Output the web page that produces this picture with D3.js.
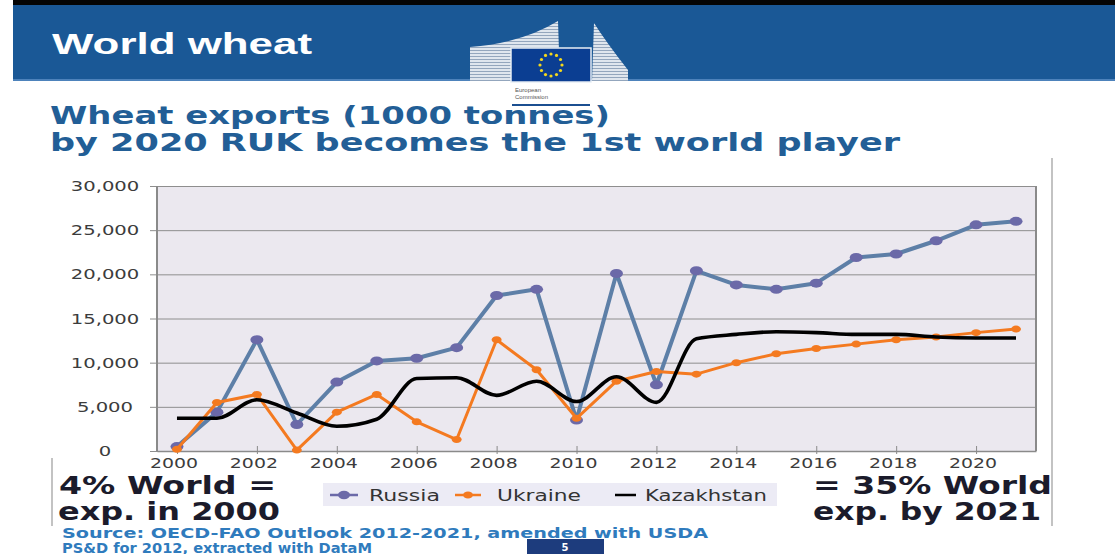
<!DOCTYPE html>
<html>
<head>
<meta charset="utf-8">
<script src="https://cdn.jsdelivr.net/npm/d3@7"></script>
<style>
  html, body { margin: 0; padding: 0; background: #fff; }
  svg { display: block; }
</style>
</head>
<body>
<svg id="chart" width="1115" height="554"></svg>
<script>
// Wheat exports, 1000 tonnes
const years = [2000, 2001, 2002, 2003, 2004, 2005, 2006, 2007, 2008, 2009, 2010,
               2011, 2012, 2013, 2014, 2015, 2016, 2017, 2018, 2019, 2020, 2021];
const russia = [500, 4400, 12600, 3000, 7800, 10200, 10500, 11700, 17600, 18300, 3500,
                20100, 7500, 20400, 18800, 18300, 19000, 21900, 22300, 23800, 25600, 26000];
const ukraine = [200, 5500, 6400, 100, 4400, 6400, 3300, 1300, 12600, 9200, 3700,
                 7900, 9000, 8700, 10000, 11000, 11600, 12100, 12600, 12900, 13400, 13800];
const kazakhstan = [3700, 3700, 5800, 4300, 2800, 3600, 8200, 8300, 6300, 7900, 5600,
                    8400, 5500, 12700, 13200, 13500, 13400, 13200, 13200, 12900, 12800, 12800];
const yTicks = [0, 5000, 10000, 15000, 20000, 25000, 30000];
const xTickYears = [2000, 2002, 2004, 2006, 2008, 2010, 2012, 2014, 2016, 2018, 2020];
const seriesNames = ["Russia", "Ukraine", "Kazakhstan"];

const svg = d3.select("#chart");
const defs = svg.append("defs");

// striped facade for the Berlaymont building silhouette
const pat = defs.append("pattern").attr("id", "facade")
  .attr("patternUnits", "userSpaceOnUse").attr("width", 4).attr("height", 3);
pat.append("rect").attr("width", 4).attr("height", 3).attr("fill", "#dfe6ee");
pat.append("rect").attr("y", 2).attr("width", 4).attr("height", 1).attr("fill", "#93a6bd");

// ---- header band ----
svg.append("rect").attr("x", 13).attr("y", 0).attr("width", 1102).attr("height", 5).attr("fill", "#050505");
svg.append("rect").attr("x", 13).attr("y", 5).attr("width", 1102).attr("height", 76).attr("fill", "#1a5896");
svg.append("rect").attr("x", 13).attr("y", 79).attr("width", 1102).attr("height", 2).attr("fill", "#4d82bb");

svg.append("text").attr("x", 52).attr("y", 54)
  .attr("font-family", "Liberation Sans, Arial, sans-serif").attr("font-weight", "bold")
  .attr("font-size", 30).attr("fill", "#ffffff")
  .attr("textLength", 260).attr("lengthAdjust", "spacingAndGlyphs")
  .text("World wheat");

// ---- European Commission logo ----
const logo = svg.append("g");
logo.append("path").attr("d", "M470,81 L470,47 Q522,43 558,21 L560,81 Z").attr("fill", "url(#facade)");
logo.append("path").attr("d", "M592,81 L594,23 Q606,42 628,70 L628,81 Z").attr("fill", "url(#facade)");
logo.append("rect").attr("x", 511).attr("y", 48).attr("width", 80).attr("height", 34)
  .attr("fill", "#0b3e92").attr("stroke", "#e8eef5").attr("stroke-width", 1.5);
d3.range(12).forEach(i => {
  const a = i / 12 * 2 * Math.PI;
  logo.append("circle").attr("cx", 551 + 11 * Math.cos(a)).attr("cy", 65 + 11 * Math.sin(a))
    .attr("r", 1.6).attr("fill", "#f4d81c");
});
logo.append("text").attr("x", 515).attr("y", 92).attr("font-family", "Liberation Sans, Arial, sans-serif")
  .attr("font-size", 6).attr("fill", "#555").text("European");
logo.append("text").attr("x", 515).attr("y", 99).attr("font-family", "Liberation Sans, Arial, sans-serif")
  .attr("font-size", 6).attr("fill", "#555").text("Commission");
logo.append("rect").attr("x", 512).attr("y", 104).attr("width", 78).attr("height", 2).attr("fill", "#1b4f91");

// ---- titles ----
const titleFont = "DejaVu Sans, Verdana, sans-serif";
svg.append("text").attr("x", 50).attr("y", 124)
  .attr("font-family", titleFont).attr("font-weight", "bold").attr("font-size", 24)
  .attr("fill", "#225e96").attr("textLength", 560).attr("lengthAdjust", "spacingAndGlyphs")
  .text("Wheat exports (1000 tonnes)");
svg.append("text").attr("x", 50).attr("y", 151)
  .attr("font-family", titleFont).attr("font-weight", "bold").attr("font-size", 24)
  .attr("fill", "#225e96").attr("textLength", 850).attr("lengthAdjust", "spacingAndGlyphs")
  .text("by 2020 RUK becomes the 1st world player");

// ---- chart frame ----
svg.append("line").attr("x1", 1052).attr("x2", 1052).attr("y1", 158).attr("y2", 526)
  .attr("stroke", "#c3c3c3").attr("stroke-width", 2);
svg.append("line").attr("x1", 52).attr("x2", 52).attr("y1", 458).attr("y2", 526)
  .attr("stroke", "#c3c3c3").attr("stroke-width", 2);

// ---- plot ----
const plotL = 157, plotR = 1036, plotT = 186, plotB = 451;
const x = d3.scalePoint().domain(years).range([plotL, plotR]).padding(0.5);
const y = d3.scaleLinear().domain([0, 30000]).range([plotB, plotT]);

svg.append("rect").attr("x", plotL).attr("y", plotT).attr("width", plotR - plotL).attr("height", plotB - plotT)
  .attr("fill", "#ebe8ef");

const axisFont = "DejaVu Sans, Verdana, sans-serif";
// horizontal gridlines (extend a little left of the plot as tick marks)
const yAxis = svg.append("g").attr("transform", `translate(${plotR},0)`)
  .call(d3.axisLeft(y).tickValues(yTicks).tickSize(plotR - 150).tickFormat(""));
yAxis.select(".domain").remove();
yAxis.selectAll(".tick line").attr("stroke", "#8e8e8e").attr("stroke-width", 1);

// value labels, horizontally stretched like the rest of the slide
const fmt = d3.format(",");
svg.append("g").selectAll("text").data(yTicks).join("text")
  .attr("transform", d => `translate(105,${y(d) + 5}) scale(1.4,1)`)
  .attr("text-anchor", "middle")
  .attr("font-family", axisFont).attr("font-size", 14).attr("fill", "#3c3c3c")
  .text(d => fmt(d));

svg.append("line").attr("x1", plotL).attr("x2", plotL).attr("y1", plotT).attr("y2", plotB)
  .attr("stroke", "#8a8a8a").attr("stroke-width", 2);
svg.append("line").attr("x1", plotR).attr("x2", plotR).attr("y1", plotT).attr("y2", plotB)
  .attr("stroke", "#8a8a8a").attr("stroke-width", 2);

const xAxis = svg.append("g").attr("transform", `translate(0,${plotB})`)
  .call(d3.axisBottom(x).tickValues(xTickYears).tickSizeInner(4).tickSizeOuter(0).tickFormat(""));
xAxis.select(".domain").attr("stroke", "#8a8a8a").attr("stroke-width", 1.5);
xAxis.selectAll(".tick line").attr("y1", -5).attr("y2", 3).attr("stroke", "#8a8a8a");

svg.append("g").selectAll("text").data(xTickYears).join("text")
  .attr("transform", d => `translate(${x(d) - 3},468) scale(1.35,1)`)
  .attr("text-anchor", "middle")
  .attr("font-family", axisFont).attr("font-size", 14).attr("fill", "#3c3c3c")
  .text(d => d);

const pts = vals => years.map((yr, i) => ({ year: yr, v: vals[i] }));
const line = d3.line().x(d => x(d.year)).y(d => y(d.v));
const smooth = d3.line().x(d => x(d.year)).y(d => y(d.v)).curve(d3.curveMonotoneX);

const russiaCol = "#5d7fa7", russiaMark = "#6b69a8", ukraineCol = "#f47a20";

// Russia
svg.append("path").datum(pts(russia)).attr("d", line)
  .attr("fill", "none").attr("stroke", russiaCol).attr("stroke-width", 4).attr("stroke-linejoin", "round");
svg.append("g").selectAll("ellipse").data(pts(russia)).join("ellipse")
  .attr("cx", d => x(d.year)).attr("cy", d => y(d.v)).attr("rx", 6.5).attr("ry", 4.5).attr("fill", russiaMark);

// Ukraine
svg.append("path").datum(pts(ukraine)).attr("d", line)
  .attr("fill", "none").attr("stroke", ukraineCol).attr("stroke-width", 3).attr("stroke-linejoin", "round");
svg.append("g").selectAll("ellipse").data(pts(ukraine)).join("ellipse")
  .attr("cx", d => x(d.year)).attr("cy", d => y(d.v)).attr("rx", 5).attr("ry", 3.5).attr("fill", ukraineCol);

// Kazakhstan
svg.append("path").datum(pts(kazakhstan)).attr("d", smooth)
  .attr("fill", "none").attr("stroke", "#000").attr("stroke-width", 3.6).attr("stroke-linejoin", "round");

// ---- legend ----
const lg = svg.append("g");
lg.append("rect").attr("x", 323).attr("y", 483).attr("width", 454).attr("height", 23).attr("fill", "#ecebf5");
const legendItems = [
  { name: seriesNames[0], x0: 330, x1: 358, col: russiaMark, mark: 6, tx: 369, tw: 71 },
  { name: seriesNames[1], x0: 455, x1: 481, col: ukraineCol, mark: 5, tx: 497, tw: 84 },
  { name: seriesNames[2], x0: 615, x1: 636, col: "#000", mark: 0, tx: 645, tw: 122 }
];
legendItems.forEach(it => {
  lg.append("line").attr("x1", it.x0).attr("x2", it.x1).attr("y1", 495).attr("y2", 495)
    .attr("stroke", it.col).attr("stroke-width", 2.5);
  if (it.mark) lg.append("ellipse").attr("cx", (it.x0 + it.x1) / 2).attr("cy", 495)
    .attr("rx", it.mark).attr("ry", it.mark * 0.7).attr("fill", it.col);
  lg.append("text").attr("x", it.tx).attr("y", 501)
    .attr("font-family", axisFont).attr("font-size", 15).attr("fill", "#333")
    .attr("textLength", it.tw).attr("lengthAdjust", "spacingAndGlyphs").text(it.name);
});

// ---- side notes ----
const noteFont = "DejaVu Sans, Verdana, sans-serif";
const note = (tx, ty, tw, s) => svg.append("text").attr("x", tx).attr("y", ty)
  .attr("font-family", noteFont).attr("font-weight", "bold").attr("font-size", 24)
  .attr("fill", "#1b1b2b").attr("textLength", tw).attr("lengthAdjust", "spacingAndGlyphs").text(s);
note(59, 494, 217, "4% World =");
note(58, 520, 222, "exp. in 2000");
note(813, 494, 239, "= 35% World");
note(813, 520, 228, "exp. by 2021");

// ---- source ----
const src = (ty, tw, s) => svg.append("text").attr("x", 62).attr("y", ty)
  .attr("font-family", noteFont).attr("font-weight", "bold").attr("font-size", 13.5)
  .attr("fill", "#2f7bbd").attr("textLength", tw).attr("lengthAdjust", "spacingAndGlyphs").text(s);
src(537.5, 646, "Source: OECD-FAO Outlook 2012-2021, amended with USDA");
src(552.5, 310, "PS&D for 2012, extracted with DataM");

svg.append("rect").attr("x", 527).attr("y", 539).attr("width", 77).attr("height", 15).attr("fill", "#1d3c7d");
svg.append("text").attr("x", 565).attr("y", 551).attr("text-anchor", "middle")
  .attr("font-family", noteFont).attr("font-weight", "bold").attr("font-size", 10)
  .attr("fill", "#fff").text("5");
</script>
</body>
</html>
